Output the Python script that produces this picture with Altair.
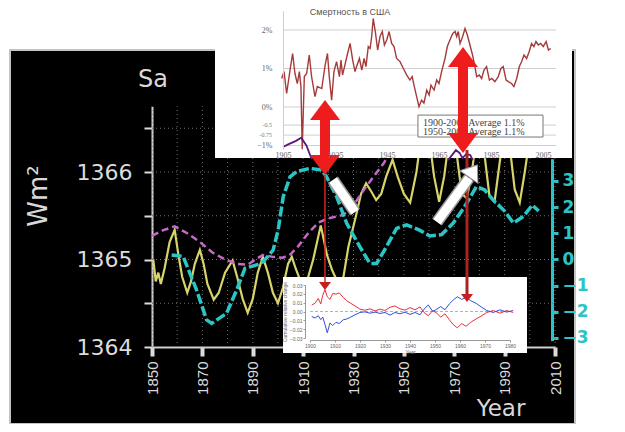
import altair as alt
import pandas as pd

# ---------------- main chart: solar irradiance Sa (W/m^2) ----------------
YELLOW_YEAR = [1850.5, 1851.5, 1852.5, 1853.5, 1855, 1857, 1859, 1860.5, 1862, 1864, 1865.5, 1867, 1869,
               1870.5, 1872, 1874.5, 1876.5, 1879, 1882, 1884, 1886, 1888, 1890, 1892, 1894, 1896, 1898,
               1900, 1902, 1904, 1905.5, 1907, 1909, 1911, 1914, 1917, 1919.5, 1921.5, 1924, 1926, 1928,
               1931, 1933, 1935, 1937, 1939, 1941, 1943, 1945.5, 1947.5, 1950, 1952.5, 1955, 1957.5, 1960,
               1962, 1964, 1966, 1968.5, 1971, 1973, 1975, 1977, 1979.5, 1982, 1984, 1986, 1988, 1990,
               1992, 1994, 1996, 1998, 2000.5, 2002.5]
YELLOW_TSI = [1365.00, 1364.75, 1364.85, 1364.72, 1364.90, 1365.20, 1365.34, 1365.05, 1364.80, 1364.62,
              1364.75, 1364.95, 1365.11, 1364.95, 1364.72, 1364.54, 1364.62, 1364.85, 1364.99, 1364.78,
              1364.55, 1364.39, 1364.55, 1364.85, 1365.03, 1364.85, 1364.62, 1364.50, 1364.68, 1364.95,
              1365.03, 1364.90, 1364.75, 1364.70, 1365.00, 1365.39, 1365.05, 1364.88, 1364.72, 1364.80,
              1365.15, 1365.50, 1365.75, 1365.87, 1365.78, 1365.68, 1365.75, 1365.95, 1366.14, 1365.95,
              1365.75, 1365.65, 1366.00, 1366.55, 1366.40, 1365.95, 1365.66, 1365.95, 1366.50, 1366.20,
              1365.75, 1365.70, 1366.00, 1366.55, 1366.20, 1365.72, 1365.66, 1366.10, 1366.50, 1366.30,
              1365.80, 1365.65, 1366.00, 1366.50, 1366.30]

MAGENTA_YEAR = [1850, 1854, 1859, 1864, 1869, 1874, 1879, 1884, 1888, 1891, 1894, 1898, 1902, 1905, 1908,
                1912, 1916, 1920, 1926, 1930, 1934, 1938, 1942, 1946, 1950]
MAGENTA_TSI = [1365.27, 1365.33, 1365.38, 1365.30, 1365.20, 1365.08, 1365.00, 1364.95, 1364.94, 1365.00,
               1365.05, 1365.03, 1365.02, 1365.06, 1365.15, 1365.30, 1365.42, 1365.47, 1365.51, 1365.62,
               1365.79, 1365.95, 1366.10, 1366.30, 1366.45]

CYAN_YEAR = [1857.8, 1862.4, 1867.7, 1871.7, 1873.7, 1879.6, 1883.6, 1886.9, 1891.5, 1894.2, 1898.1,
             1900.1, 1902.1, 1904.8, 1907.4, 1912.7, 1917.3, 1919.3, 1923.3, 1927.3, 1932.5, 1936.5,
             1939.2, 1943.1, 1947.1, 1951.1, 1956, 1960.3, 1965, 1969.5, 1974, 1978.8, 1982, 1985.5,
             1990, 1993.5, 1997.5, 2001, 2003.5]
CYAN_ANOM = [0.17, 0.11, -1.17, -2.31, -2.44, -2.06, -1.17, -0.34, -0.21, -0.08, 0.36, 1.13, 2.40, 3.16,
             3.36, 3.48, 3.42, 3.16, 2.40, 1.38, 0.49, -0.15, -0.15, 0.49, 1.19, 1.32, 1.13, 0.90, 0.95,
             1.38, 2.00, 2.78, 2.66, 2.27, 1.85, 1.39, 1.65, 2.08, 1.85]

X_TICKS = [1850, 1870, 1890, 1910, 1930, 1950, 1970, 1990, 2010]
GRID_YEARS = list(range(1850, 2011, 10))
GRID_TSI = [1364.5, 1365, 1365.5, 1366, 1366.5]
LEFT_TICKS = [1364, 1364.5, 1365, 1365.5, 1366, 1366.5]
RIGHT_TICKS = [-3, -2, -1, 0, 1, 2, 3]

# ---------------- top inset: mortality in the USA (%) ----------------
MORT_YEAR = [1904.5, 1905.4, 1906.4, 1907.7, 1908.7, 1909.6, 1910.5, 1911.3, 1911.9, 1912.4, 1913.2, 1914.1,
             1915.1, 1916.0, 1917.3, 1918.2, 1919.9, 1921.2, 1922.1, 1922.8, 1923.7, 1924.6, 1925.6, 1926.7,
             1927.3, 1927.9, 1928.8, 1929.7, 1930.8, 1931.8, 1932.7, 1933.3, 1934.4, 1935.3, 1936.2, 1936.9,
             1937.8, 1938.5, 1939.1, 1939.7, 1940.6, 1941.4, 1942.3, 1943.2, 1944.0, 1944.9, 1945.8, 1946.8,
             1947.7, 1948.7, 1950.0, 1951.3, 1952.6, 1953.8, 1954.7, 1955.5, 1956.4, 1957.3, 1958.3, 1959.2,
             1960.3, 1961.2, 1961.9, 1963.1, 1964.1, 1965.0, 1966.0, 1967.3, 1968.2, 1969.2, 1970.3, 1971.2,
             1971.8, 1972.4, 1973.1, 1974.1, 1975.0, 1975.9, 1976.9, 1977.9, 1978.8, 1979.5, 1980.5, 1981.4,
             1982.3, 1983.3, 1984.4, 1985.3, 1986.5, 1987.8, 1988.8, 1989.7, 1990.8, 1991.7, 1992.9, 1993.8,
             1994.9, 1995.9, 1996.8, 1997.7, 1998.7, 1999.7, 2000.6, 2001.5, 2002.3, 2003.2, 2004.1, 2005.1,
             2006.2, 2007.1, 2008.0]
MORT_PCT = [0.74, 0.92, 0.35, 0.96, 1.39, 0.87, 0.61, 0.92, 0.53, -1.10, 0.79, 0.87, 1.35, 0.79, 0.27, 0.53,
            0.48, 1.09, 1.39, 0.79, 0.18, 0.92, 1.18, 0.79, 1.22, 0.83, 1.09, 1.35, 1.65, 1.22, 0.92, 1.05,
            1.26, 0.96, 1.26, 1.05, 1.57, 1.52, 1.83, 2.30, 1.91, 1.48, 1.83, 1.96, 1.61, 1.74, 1.96, 1.65,
            1.57, 1.26, 1.18, 1.00, 0.83, 0.70, 0.79, 0.53, 0.27, 0.01, 0.18, 0.10, 0.44, 0.31, 0.57, 0.44,
            0.70, 0.61, 0.92, 1.26, 1.57, 1.74, 1.91, 1.96, 1.83, 1.96, 1.65, 1.83, 2.04, 1.87, 1.61, 1.35,
            1.05, 0.79, 0.83, 0.74, 0.96, 1.05, 0.70, 0.74, 0.66, 0.79, 1.00, 1.05, 0.70, 0.66, 0.61, 0.53,
            0.74, 1.05, 1.18, 1.35, 1.26, 1.44, 1.65, 1.57, 1.70, 1.61, 1.65, 1.57, 1.70, 1.48, 1.52]
PURPLE_YEAR = [1905, 1907, 1910, 1912, 1914, 1916, 1968.5, 1970, 1971.5, 1973, 1974, 1975.5, 1977, 1978]
PURPLE_PCT = [-1.04, -0.97, -0.88, -0.80, -1.00, -1.35, -1.38, -1.25, -1.12, -1.20, -1.33, -1.22, -1.25, -1.38]
PURPLE_SEG = ["a"] * 6 + ["b"] * 8
TOP_TICK_YEARS = [1905, 1925, 1945, 1965, 1985, 2005]
TOP_PCT_TICKS = [-1, 0, 1, 2]
TOP_GRID_PCT = [2, 1, 0, -0.47, -0.73, -1.0]
TOP_MINOR_PCT = [-0.47, -0.73]
TOP_MINOR_LABELS = ["-0.5", "-0.75"]
LEGEND_LINES = ["1900-2006 Average 1.1%", "1950-2006 Average 1.1%"]
LEGEND_PCT = [-0.41, -0.64]

# ---------------- bottom inset: cumulative relative change ----------------
BOT_YEAR = [1900.7, 1902, 1903.3, 1904.3, 1905.1, 1906, 1906.9, 1908, 1909.1, 1910.4, 1911.7, 1913.3, 1914.7,
            1916.3, 1918, 1920, 1922, 1924, 1926, 1928, 1930, 1932, 1934, 1936, 1938, 1940, 1942, 1944,
            1945.6, 1947.3, 1949.1, 1950.7, 1952.3, 1954, 1955.7, 1957.3, 1958.9, 1960.7, 1962.4, 1964.3,
            1966.4, 1968.7, 1970.7, 1973.3, 1976, 1978.7, 1981.3]
BOT_RED = [0.0074, 0.0093, 0.0148, 0.0085, 0.0185, 0.0248, 0.0167, 0.0137, 0.0204, 0.0196, 0.0211, 0.0159,
           0.0122, 0.0093, 0.0063, 0.0026, 0.0015, 0.0030, 0.0007, 0.0026, 0.0011, 0.0048, 0.0063, 0.0030,
           0.0015, 0.0044, 0.0019, 0.0052, -0.0011, -0.0048, 0.0011, -0.0019, -0.0063, -0.0026, -0.0093,
           -0.0148, -0.0185, -0.0137, -0.0167, -0.0122, -0.0085, -0.0048, -0.0011, 0.0011, -0.0019, 0.0011,
           -0.0011]
BOT_BLUE = [-0.0056, -0.0074, -0.0048, -0.0093, -0.0063, -0.0148, -0.0241, -0.0130, -0.0159, -0.0122,
            -0.0137, -0.0093, -0.0085, -0.0063, -0.0037, -0.0011, -0.0004, -0.0019, -0.0007, -0.0022,
            -0.0011, -0.0041, -0.0011, -0.0026, -0.0007, -0.0033, -0.0011, -0.0037, 0.0026, 0.0074, 0.0000,
            0.0026, 0.0056, 0.0019, 0.0085, 0.0130, 0.0167, 0.0137, 0.0159, 0.0122, 0.0093, 0.0048, 0.0011,
            -0.0011, 0.0019, -0.0007, 0.0011]
BOT_X_TICKS = [1900, 1910, 1920, 1930, 1940, 1950, 1960, 1970, 1980]
BOT_Y_TICKS = [-0.03, -0.02, -0.01, 0, 0.01, 0.02, 0.03]

# ---------------- annotation arrows (in main-chart units: year, W/m^2) ----------------
RED_ARROW_YEAR = [1918.68, 1973.47]
RED_SHAFT_TOP = [1366.606, 1367.211]
RED_SHAFT_BOT = [1366.183, 1366.434]
RED_HEAD_UP = [1366.651, 1367.257]
RED_HEAD_DOWN = [1366.137, 1366.389]
THIN_YEAR = [1918.68, 1975.06]
THIN_TOP = [1365.966, 1366.251]
THIN_BOT = [1364.674, 1364.56]
THIN_HEAD = [1364.72, 1364.583]
WHITE_A_YEAR = [1921.86, 1930.60]
WHITE_A_TSI = [1365.909, 1365.543]
WHITE_B_YEAR = [1963.15, 1975.85]
WHITE_B_TSI = [1365.429, 1365.931]
WHITE_B_HEAD = (1976.65, 1365.977)

# ---------------- layout ----------------
W, H = 565, 374
HEAD = "M0,-1L1,0.33L-1,0.33Z"
CYAN = "#2cc5c5"
RED = "#ee1c1c"


def S(domain, rng):
    return alt.Scale(domain=domain, range=rng, zero=False, nice=False)


MX = S([1850, 2010], [142, 545])
MY = S([1364, 1366.75], [297, 56.375])
RY = S([-3.1, 3.85], [290.6, 108.7])
TX = S([1905, 2010], [273, 546])
TY = S([-1.1, 2.5], [99.35, -39.25])
BX = S([1900, 1980], [300, 500])
BY = S([-0.03, 0.03], [288, 235])


def X(f, sc, axis=None):
    return alt.X(f + ":Q", scale=sc, axis=axis)


def Y(f, sc, axis=None):
    return alt.Y(f + ":Q", scale=sc, axis=axis)


def txt(text, x, y, **kw):
    return alt.Chart(pd.DataFrame({"t": [text]})).mark_text(**kw).encode(
        x=alt.value(x), y=alt.value(y), text="t:N")


def box(x, x2, y, y2, **kw):
    return alt.Chart(pd.DataFrame({"k": [0]})).mark_rect(**kw).encode(
        x=alt.value(x), x2=alt.value(x2), y=alt.value(y), y2=alt.value(y2))


layers = []

# ---- main grid ----
gv = pd.DataFrame({"yr": GRID_YEARS, "lo": 1364, "hi": 1366.75})
layers.append(alt.Chart(gv).mark_rule(color="#707070", strokeDash=[1, 3], strokeWidth=1).encode(
    x=X("yr", MX), y=Y("lo", MY), y2="hi:Q"))
gh = pd.DataFrame({"v": GRID_TSI, "x0": 1850, "x1": 2010})
layers.append(alt.Chart(gh).mark_rule(color="#707070", strokeDash=[1, 3], strokeWidth=1).encode(
    x=X("x0", MX), x2="x1:Q", y=Y("v", MY)))

# ---- main lines with left & bottom axes ----
x_axis = alt.Axis(orient="bottom", offset=-77, values=X_TICKS, format="d", labelAngle=-90,
                  labelFont="Liberation Sans", labelFontSize=15, labelColor="#dcdcdc",
                  labelPadding=5, labelFlush=False, labelOverlap=False,
                  tickColor="#dcdcdc", tickSize=9, tickWidth=4,
                  domainColor="#d0d0d0", domainWidth=2, grid=False, title=None)
y_axis = alt.Axis(orient="left", offset=-142, values=LEFT_TICKS,
                  labelExpr="datum.value % 1 == 0 ? format(datum.value, 'd') : ''",
                  labelFont="DejaVu Sans", labelFontSize=22, labelColor="#dcdcdc",
                  labelPadding=12, labelOverlap=False, labelFlush=False,
                  tickColor="#dcdcdc", tickSize=8, tickWidth=2,
                  domainColor="#d0d0d0", domainWidth=2, grid=False, title=None)
dfy = pd.DataFrame({"year": YELLOW_YEAR, "v": YELLOW_TSI})
layers.append(alt.Chart(dfy).mark_line(color="#d8d46c", strokeWidth=2.2).encode(
    x=X("year", MX, x_axis), y=Y("v", MY, y_axis)))
dfm = pd.DataFrame({"year": MAGENTA_YEAR, "v": MAGENTA_TSI})
layers.append(alt.Chart(dfm).mark_line(color="#c868c8", strokeWidth=2.5, strokeDash=[7, 4]).encode(
    x=X("year", MX), y=Y("v", MY)))

r_axis = alt.Axis(orient="right", offset=-23, values=RIGHT_TICKS, format="d",
                  labelFont="DejaVu Sans", labelFontSize=17, labelFontWeight="bold", labelColor=CYAN,
                  labelPadding=4, labelOverlap=False, labelFlush=False,
                  tickColor=CYAN, tickSize=6, tickWidth=3,
                  domainColor=CYAN, domainWidth=3, grid=False, title=None)
dfc = pd.DataFrame({"year": CYAN_YEAR, "v": CYAN_ANOM})
layers.append(alt.Chart(dfc).mark_line(color=CYAN, strokeWidth=3.5, strokeDash=[10, 3]).encode(
    x=X("year", MX), y=Y("v", RY, r_axis)))

# ---- main texts ----
layers.append(txt("Sa", 143, 30, font="DejaVu Sans", fontSize=24, color="#d8d8d8",
                  align="center", baseline="middle"))
layers.append(txt("Wm²", 29, 146, font="DejaVu Sans", fontSize=26, color="#d8d8d8",
                  align="center", baseline="middle", angle=270))
layers.append(txt("Year", 491, 359, font="DejaVu Sans", fontSize=23, color="#d8d8d8",
                  align="center", baseline="middle"))

# ---- top inset ----
layers.append(box(205, 562, -50, 108, color="white"))
tg = pd.DataFrame({"v": TOP_GRID_PCT, "x0": 1905, "x1": 2010})
layers.append(alt.Chart(tg).mark_rule(color="#cfcfcf", strokeWidth=1).encode(
    x=X("x0", TX), x2="x1:Q", y=Y("v", TY)))
tx_axis = alt.Axis(orient="bottom", offset=-274, values=TOP_TICK_YEARS, format="d", zindex=1,
                   labelFont="Liberation Serif", labelFontSize=8, labelColor="#666666",
                   labelPadding=1, labelFlush=False, labelOverlap=False,
                   ticks=False, domain=False, grid=False, title=None)
ty_axis = alt.Axis(orient="left", offset=-273, values=TOP_PCT_TICKS, zindex=1,
                   labelExpr="format(datum.value, 'd') + '%'",
                   labelFont="Liberation Serif", labelFontSize=8, labelColor="#666666",
                   labelPadding=11, labelFlush=False, labelOverlap=False,
                   ticks=False, domainColor="#cfcfcf", domainWidth=1, grid=False, title=None)
dft = pd.DataFrame({"year": MORT_YEAR, "v": MORT_PCT})
layers.append(alt.Chart(dft).mark_line(color="#a53a3a", strokeWidth=1.4).encode(
    x=X("year", TX, tx_axis), y=Y("v", TY, ty_axis)))
dfp = pd.DataFrame({"year": PURPLE_YEAR, "v": PURPLE_PCT, "s": PURPLE_SEG})
layers.append(alt.Chart(dfp).mark_line(color="#5a1a7a", strokeWidth=1.8).encode(
    x=X("year", TX), y=Y("v", TY), detail="s:N"))
tm = pd.DataFrame({"v": TOP_MINOR_PCT, "t": TOP_MINOR_LABELS, "x0": 1905})
layers.append(alt.Chart(tm).mark_text(font="Liberation Serif", fontSize=6, color="#777777",
                                      align="right", dx=-11).encode(
    x=X("x0", TX), y=Y("v", TY), text="t:N"))
lg = pd.DataFrame({"x0": [1956.9], "x1": [2005.0], "y0": [-0.21], "y1": [-0.78]})
layers.append(alt.Chart(lg).mark_rect(fill="white", stroke="#777777", strokeWidth=1).encode(
    x=X("x0", TX), x2="x1:Q", y=Y("y0", TY), y2="y1:Q"))
lt = pd.DataFrame({"t": LEGEND_LINES, "v": LEGEND_PCT, "x0": 1958.8})
layers.append(alt.Chart(lt).mark_text(font="Liberation Serif", fontSize=10, color="#444444",
                                      align="left", baseline="middle").encode(
    x=X("x0", TX), y=Y("v", TY), text="t:N"))
layers.append(txt("Смертность в США", 340, -38, font="Liberation Sans", fontSize=9, color="#555555",
                  align="center", baseline="middle"))

# ---- bottom inset ----
layers.append(box(273, 517, 227, 303, color="white"))
bz = pd.DataFrame({"x0": [1900], "x1": [1980], "v": [0]})
layers.append(alt.Chart(bz).mark_rule(color="#c8b46a", strokeDash=[3, 2], strokeWidth=1).encode(
    x=X("x0", BX), x2="x1:Q", y=Y("v", BY)))
bx_axis = alt.Axis(orient="bottom", offset=-84, values=BOT_X_TICKS, format="d", zindex=1,
                   labelFont="Liberation Sans", labelFontSize=5, labelColor="#666666",
                   labelPadding=1, labelFlush=False, labelOverlap=False,
                   tickColor="#999999", tickSize=2, domainColor="#999999", grid=False,
                   title="Year", titleFontSize=5, titleColor="#666666", titlePadding=1,
                   titleFontWeight="normal")
by_axis = alt.Axis(orient="left", offset=-295, values=BOT_Y_TICKS, format=".2f", zindex=1,
                   labelFont="Liberation Sans", labelFontSize=5, labelColor="#666666",
                   labelPadding=1, labelFlush=False, labelOverlap=False,
                   tickColor="#999999", tickSize=2, domainColor="#999999", grid=False,
                   title="Cumulative relative change", titleFontSize=5, titleColor="#666666",
                   titlePadding=2, titleFontWeight="normal")
dfb = pd.DataFrame({"year": BOT_YEAR, "red": BOT_RED, "blue": BOT_BLUE})
layers.append(alt.Chart(dfb).mark_line(color="#e83040", strokeWidth=1).encode(
    x=X("year", BX, bx_axis), y=Y("red", BY, by_axis)))
layers.append(alt.Chart(dfb).mark_line(color="#3050d8", strokeWidth=1).encode(
    x=X("year", BX), y=Y("blue", BY)))

# ---- annotations (main-chart units) ----
th = pd.DataFrame({"year": THIN_YEAR, "top": THIN_TOP, "bot": THIN_BOT, "head": THIN_HEAD,
                   "k": ["a", "b"]})
layers.append(alt.Chart(th.iloc[[0]]).mark_rule(color="#dd2222", strokeWidth=1.5).encode(
    x=X("year", MX), y=Y("top", MY), y2="bot:Q"))
layers.append(alt.Chart(th.iloc[[1]]).mark_rule(color="#a82424", strokeWidth=3).encode(
    x=X("year", MX), y=Y("top", MY), y2="bot:Q"))
layers.append(alt.Chart(th).mark_point(shape=HEAD, filled=True, size=144, angle=180, opacity=1,
                                       color="#c81e1e").encode(
    x=X("year", MX), y=Y("head", MY)))

wa = pd.DataFrame({"year": WHITE_A_YEAR, "v": WHITE_A_TSI})
wb = pd.DataFrame({"year": WHITE_B_YEAR, "v": WHITE_B_TSI})
for d in (wa, wb):
    layers.append(alt.Chart(d).mark_line(color="#9a9a9a", strokeWidth=12).encode(
        x=X("year", MX), y=Y("v", MY)))
    layers.append(alt.Chart(d).mark_line(color="white", strokeWidth=9).encode(
        x=X("year", MX), y=Y("v", MY)))
wh = pd.DataFrame({"year": [WHITE_B_HEAD[0]], "v": [WHITE_B_HEAD[1]]})
layers.append(alt.Chart(wh).mark_point(shape=HEAD, filled=True, size=484, angle=35, opacity=1,
                                       color="white", stroke="#9a9a9a", strokeWidth=1).encode(
    x=X("year", MX), y=Y("v", MY)))

ra = pd.DataFrame({"year": RED_ARROW_YEAR, "top": RED_SHAFT_TOP, "bot": RED_SHAFT_BOT,
                   "up": RED_HEAD_UP, "down": RED_HEAD_DOWN})
layers.append(alt.Chart(ra).mark_rule(color=RED, strokeWidth=10).encode(
    x=X("year", MX), y=Y("top", MY), y2="bot:Q"))
layers.append(alt.Chart(ra).mark_point(shape=HEAD, filled=True, size=900, opacity=1, color=RED).encode(
    x=X("year", MX), y=Y("up", MY)))
layers.append(alt.Chart(ra).mark_point(shape=HEAD, filled=True, size=900, angle=180, opacity=1,
                                       color=RED).encode(
    x=X("year", MX), y=Y("down", MY)))

chart = alt.layer(*layers).resolve_scale(x="independent", y="independent").properties(
    width=W, height=H,
    padding={"left": 2, "top": 42, "right": 42, "bottom": 0},
    autosize=alt.AutoSizeParams(type="none"),
    background="white",
).configure_view(fill="black", stroke="#c4c4c4", strokeWidth=2)

chart.save("out.html", embed_options={"renderer": "svg", "actions": False})
